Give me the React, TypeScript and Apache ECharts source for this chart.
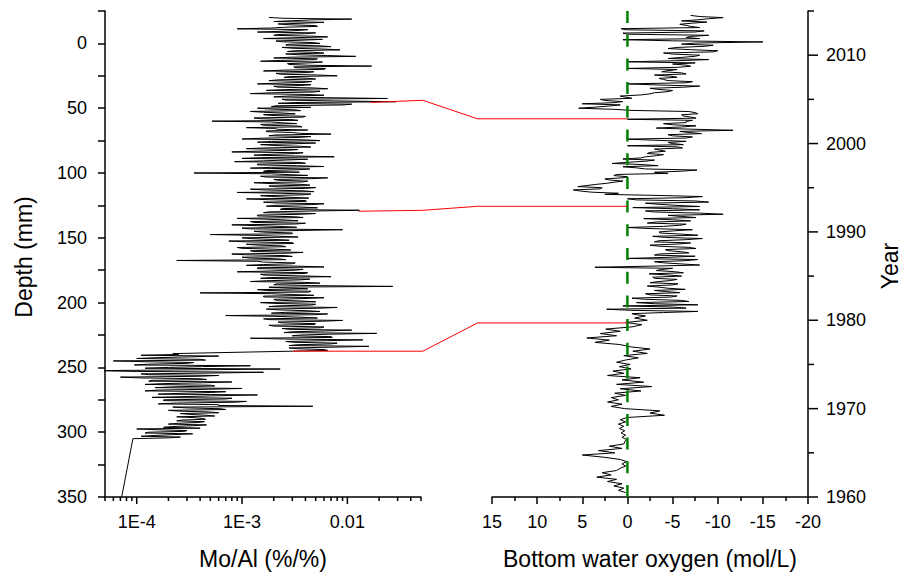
import React, { useEffect, useRef } from 'react';
import * as echarts from 'echarts';

// ---------- Data ----------
// Mo/Al profile (%/%), series A sampled every 1.25 mm starting at -20 mm depth
const moAlDepthStartA = -20;
const moAlDepthStep = 1.25;
const moAlValuesA = [
  0.0018, 0.011, 0.003, 0.006, 0.0022, 0.005, 0.0026, 0.0009,
  0.0035, 0.0014, 0.004, 0.002, 0.0065, 0.0016, 0.0038, 0.0024,
  0.0055, 0.0026, 0.007, 0.003, 0.0085, 0.0027, 0.006, 0.0034,
  0.012, 0.002, 0.005, 0.0015, 0.0045, 0.0028, 0.017, 0.0032,
  0.006, 0.0016, 0.0042, 0.0023, 0.008, 0.0025, 0.005, 0.0018,
  0.004, 0.0014, 0.0036, 0.0022, 0.0065, 0.0017, 0.0048, 0.0012,
  0.006, 0.002, 0.024, 0.0026, 0.029, 0.0022, 0.009, 0.0019,
  0.0014, 0.0032, 0.0012, 0.0025, 0.0016, 0.004, 0.0013, 0.0029,
  0.00052, 0.0024, 0.0015, 0.0034, 0.0011, 0.0022, 0.0017, 0.003,
  0.007, 0.0018, 0.0036, 0.001, 0.0055, 0.0014, 0.003, 0.002,
  0.0045, 0.0011, 0.0027, 0.0008, 0.0032, 0.0013, 0.0075, 0.001,
  0.0026, 0.00085, 0.004, 0.0014, 0.006, 0.0012, 0.0034, 0.0016,
  0.00035, 0.0028, 0.0015, 0.0065, 0.002, 0.0042, 0.0013, 0.0036,
  0.0018, 0.005, 0.0012, 0.0038, 0.0009, 0.0045, 0.0015, 0.0029,
  0.0011, 0.004, 0.0016, 0.006, 0.002, 0.0036, 0.0024, 0.013,
  0.0018, 0.005, 0.0014, 0.0032, 0.0009, 0.0026, 0.0012, 0.004,
  0.0008, 0.0024, 0.001, 0.009, 0.0013, 0.003, 0.0005, 0.0022,
  0.001, 0.002, 0.00075, 0.003, 0.0011, 0.0024, 0.0009, 0.002,
  0.0012, 0.0038, 0.0008, 0.0026, 0.001, 0.0022, 0.00024, 0.0016,
  0.003, 0.0011, 0.006, 0.0014, 0.0032, 0.0009, 0.004, 0.0016,
  0.007, 0.0015, 0.0035, 0.0012, 0.0055, 0.002, 0.027, 0.0028,
  0.0014, 0.0045, 0.0004, 0.003, 0.0016, 0.006, 0.002, 0.0036,
  0.0015, 0.005, 0.0022, 0.008, 0.0017, 0.0042, 0.0026, 0.0065,
  0.0007, 0.0036, 0.0016, 0.009, 0.0022, 0.005, 0.0018, 0.006,
  0.0024, 0.011, 0.003, 0.019, 0.0036, 0.007, 0.0012, 0.014,
  0.0026, 0.008, 0.0034, 0.016, 0.0028, 0.006, 0.003, 0.0005,
  0.00025, 0.0006, 0.00015, 0.0004, 0.00006, 0.00035, 0.00013, 0.0012,
  0.0002, 0.0023, 0.00004, 0.0016, 0.00011, 0.0006, 0.00007, 0.0004,
  0.00014, 0.0008, 0.00018, 0.0005, 0.00022, 0.001, 0.00016, 0.0007,
  0.00026, 0.0014, 0.0003, 0.0008, 0.00018, 0.0011, 0.00024, 0.0006,
  0.0047, 0.0003, 0.0007, 0.00025, 0.0006, 0.00032, 0.00055, 0.00035,
  0.00045, 0.00024, 0.00038, 0.0002, 0.00034, 0.00018, 0.0001, 0.0003,
  0.00013, 0.00034, 0.00015, 0.00026, 0.000092,
];
// Mo/Al series B: intermediate samples, every 1.25 mm starting at -19.375 mm
const moAlDepthStartB = -19.375;
const moAlValuesB = [
  0.0025, 0.0045, 0.002, 0.004, 0.0028, 0.0052, 0.0019, 0.0042,
  0.0024, 0.005, 0.0022, 0.0045, 0.003, 0.0058, 0.0021, 0.0047,
  0.0028, 0.0055, 0.0024, 0.006, 0.0032, 0.0048, 0.0026, 0.0065,
  0.003, 0.0052, 0.0023, 0.0058, 0.0027, 0.0044, 0.0031, 0.0062,
  0.0025, 0.0048, 0.0021, 0.0052, 0.0028, 0.0042, 0.0022, 0.0046,
  0.0023, 0.0045, 0.002, 0.0048, 0.0026, 0.0055, 0.0019, 0.004,
  0.0027, 0.0062, 0.0024, 0.0075, 0.0032, 0.011, 0.0021, 0.0045,
  0.0018, 0.0036, 0.0016, 0.0032, 0.0019, 0.0038, 0.0015, 0.0034,
  0.0019, 0.0033, 0.0016, 0.0037, 0.002, 0.0042, 0.0017, 0.0035,
  0.0021, 0.0045, 0.0016, 0.0038, 0.0019, 0.005, 0.0015, 0.0036,
  0.0017, 0.0034, 0.0014, 0.0038, 0.0018, 0.0032, 0.0015, 0.0042,
  0.0016, 0.0036, 0.0014, 0.0033, 0.0019, 0.0044, 0.0017, 0.0035,
  0.0019, 0.0042, 0.0017, 0.0046, 0.0022, 0.0038, 0.0018, 0.0044,
  0.0021, 0.004, 0.0017, 0.0048, 0.0023, 0.0037, 0.0019, 0.0043,
  0.0018, 0.0041, 0.0021, 0.0046, 0.0017, 0.0052, 0.0023, 0.0044,
  0.0016, 0.0036, 0.0014, 0.0038, 0.0017, 0.0034, 0.0013, 0.0032,
  0.0014, 0.0033, 0.0012, 0.0035, 0.0016, 0.003, 0.0013, 0.0034,
  0.0012, 0.0028, 0.0011, 0.0031, 0.0014, 0.0026, 0.001, 0.0029,
  0.0013, 0.0027, 0.0011, 0.003, 0.0012, 0.0026, 0.0014, 0.0032,
  0.0016, 0.0034, 0.0014, 0.0038, 0.0018, 0.0042, 0.0015, 0.0036,
  0.0019, 0.0044, 0.0017, 0.0039, 0.0021, 0.0046, 0.0018, 0.0042,
  0.0017, 0.0043, 0.0019, 0.0048, 0.0016, 0.0038, 0.0021, 0.005,
  0.002, 0.0046, 0.0018, 0.0052, 0.0022, 0.0055, 0.0019, 0.0048,
  0.0021, 0.0052, 0.0018, 0.0058, 0.0024, 0.0049, 0.002, 0.0056,
  0.0028, 0.0062, 0.0025, 0.0068, 0.003, 0.0072, 0.0026, 0.0065,
  0.0031, 0.007, 0.0028, 0.0075, 0.0034, 0.0065, 0.0012, 0.00022,
  0.00011, 0.00032, 0.0001, 0.00045, 0.00012, 0.0003, 0.000095, 0.00042,
  0.00012, 0.00035, 0.0001, 0.0005, 0.00013, 0.00038, 0.00011, 0.00046,
  0.00013, 0.00042, 0.00012, 0.00055, 0.00015, 0.00048, 0.00012, 0.0005,
  0.00016, 0.00058, 0.00014, 0.0007, 0.00018, 0.00085, 0.00016, 0.0006,
  0.00022, 0.00062, 0.0002, 0.00048, 0.00026, 0.00045, 0.00024, 0.00042,
  0.00027, 0.00044, 0.00025, 0.00046, 0.00022, 0.0004, 0.00016, 0.00028,
  0.00012, 0.00022, 0.00011, 0.0002,
];
// last sample at the bottom of the core: [Mo/Al, depth]
const moAlTail = [[0.000072, 350]];

// Bottom water oxygen, series A every 0.25 yr starting in 1960.5
const oxygenYearStartA = 1960.5;
const oxygenYearStep = 0.25;
const oxygenValuesA = [
  0.2, 1.0, 0.4, 1.5, 0.6, 2.2, 1.2, 3.4,
  1.8, 2.8, 1.2, 0.8, 0.2, 0.6, 0.1, 0.8,
  2.6, 5.0, 1.4, 3.2, 0.6, 2.0, 0.4, 0.3,
  0.1, 0.6, 0.2, 0.7, 0.3, 0.9, 0.4, 1.0,
  0.2, 0.8, 0.0, -4.1, -2.5, -3.6, 0.3, 1.8,
  0.6, 2.2, 1.0, 1.8, 0.2, 1.4, -1.5, 0.8,
  -2.7, 1.2, -1.8, 0.6, -1.4, 2.2, 0.4, 1.6,
  -0.4, 0.9, -0.3, 1.2, 0.2, -1.2, 0.4, -2.2,
  -0.6, -2.5, -0.3, 0.8, 3.6, 2.0, 4.5, 1.2,
  3.0, 0.8, 2.4, -0.5, -1.6, 0.2, -2.2, -0.8,
  -2.0, -0.5, -7.8, 2.3, -5.0, -7.8, -1.0, -6.0,
  -0.5, -5.5, -2.0, -4.2, -6.4, -3.5, -5.0, -2.5,
  -4.8, -3.0, -6.0, -2.4, -5.2, -3.8, 3.6, -8.0,
  -4.0, -6.5, 0.0, -7.5, -3.5, -6.0, -4.2, -6.8,
  -2.5, -7.0, -3.5, -8.3, -2.8, -6.0, -3.5, -7.2,
  0.0, -5.8, -2.2, -7.0, -1.8, -6.0, -10.6, -3.0,
  -8.0, -0.6, -5.5, -2.0, -7.5, 0.0, -8.3, 2.5,
  4.0, 6.0, 2.8, 4.5, 2.3, 0.5, 2.5, 0.0,
  1.2, -3.0, -7.7, -1.0, -3.4, 1.7, -2.0, 0.5,
  -2.0, -4.0, -2.5, -3.6, -6.1, 0.0, -5.0, -6.5,
  0.0, -7.2, -4.5, -6.8, -11.7, -3.2, -7.6, -4.0,
  -6.5, 0.0, -7.0, -6.0, -7.5, -0.5, 5.4, 2.0,
  5.0, 0.5, 3.0, 0.2, -1.5, -3.0, -5.0, -2.5,
  -8.0, 0.0, -7.2, -4.0, -5.5, -3.0, -6.0, -4.5,
  0.0, -7.0, -5.0, 0.0, -9.0, -6.0, -8.0, -4.0,
  -10.0, -4.5, -8.5, -6.0, -15.0, 0.5, -6.5, -9.0,
  0.5, -8.5, 0.7, -7.0, -5.8, -8.8, -7.8, -10.6,
  -7.0,
];
// Oxygen series B: intermediate samples (1980.625 onward, every 0.25 yr)
const oxygenYearStartB = 1980.625;
const oxygenValuesB = [
  -1.0, -4.0, -0.5, -6.5, 0.5, -3.0, -6.8, -2.0,
  -4.8, -2.5, -5.8, -3.0, -4.5, -2.2, -5.6, -3.4,
  -5.5, -2.8, -4.6, -6.2, -3.2, -5.0, -2.6, -6.0,
  -3.0, -7.8, -4.5, -3.0, -6.8, -4.5, -7.6, -3.6,
  -5.5, -3.0, -6.5, -4.2, -7.8, -3.6, -5.2, -2.6,
  -4.0, -6.5, -3.2, -5.0, -7.6, -4.5, -8.0, -2.0,
  -5.0, -8.0, -3.5, -9.0, -1.0, -6.5, -3.5, 1.0,
  5.2, 3.0, 5.5, 3.5, 1.5, 2.0, 0.5, 1.5,
  -4.5, -6.0, -2.0, 0.5, -1.5, 0.0, -3.0, -1.5,
  -3.2, -2.2, -4.2, -3.0, -5.5, -6.2, -4.5, -3.0,
  -6.5, -5.0, -8.2, -5.8, -7.0, -6.0, -5.0, -6.5,
  -7.2, -7.6, -6.2, -7.8, -6.8, 1.5, 3.5, 0.8,
  1.5, 2.5, -0.5, 0.8, -2.5, -4.5, -3.5, -6.2,
  -3.5, -6.5, -4.5, -3.5, -4.8, -6.5, -3.8, -5.5,
  -5.5, -6.5, -7.5, -5.5, -4.5, -7.5, -5.0, -9.5,
  -7.0, -5.5, -9.5, -7.5, -5.0, -8.0, -7.0, 0.0,
  -7.5, 0.2, -8.0, -6.5, -7.2, -6.0, -9.0, -8.0,
];

// Zero-oxygen reference line (year span)
const zeroLineYears = [2015, 1960];

// Correlation tie lines: Mo/Al peak (depth) -> corner -> oxygen year
const tieMoAl = [0.0167, 0.0128, 0.00304];
const tieDepth = [45.5, 129.5, 237.5];
const tieCornerMoAl = [0.052, 0.052, 0.052];
const tieCornerDepth = [43.9, 128.8, 237.5];
const tieCornerOxygen = [16.6, 16.6, 16.6];
const tieYear = [2002.8, 1992.9, 1979.7];

// Axis ticks
const logMajorTicks = [1e-4, 1e-3, 1e-2];
const logMinorTicks = [
  5e-5, 6e-5, 7e-5, 8e-5, 9e-5,
  2e-4, 3e-4, 4e-4, 5e-4, 6e-4, 7e-4, 8e-4, 9e-4,
  2e-3, 3e-3, 4e-3, 5e-3, 6e-3, 7e-3, 8e-3, 9e-3,
  2e-2, 3e-2, 4e-2, 5e-2,
];
const logTickLabels = ['1E-4', '1E-3', '0.01'];
const yearMajorTicks = [1960, 1970, 1980, 1990, 2000, 2010];
const yearMinorTicks = [1965, 1975, 1985, 1995, 2005, 2015];

const FONT = '"Liberation Sans", Arial, Helvetica, sans-serif';

function tickSeries(xAxisIndex: number, yAxisIndex: number, pts: number[][], dx: number, dy: number) {
  return {
    type: 'custom',
    xAxisIndex,
    yAxisIndex,
    silent: true,
    clip: false,
    z: 6,
    data: pts,
    renderItem: (_params: any, api: any) => {
      const p = api.coord([api.value(0), api.value(1)]);
      return {
        type: 'line',
        shape: { x1: p[0], y1: p[1], x2: p[0] + dx, y2: p[1] + dy },
        style: { stroke: '#000', lineWidth: 1.5 },
      };
    },
  };
}

export default function App() {
  const ref = useRef<HTMLDivElement>(null);

  useEffect(() => {
    if (!ref.current) return;
    const chart = echarts.init(ref.current, undefined, { renderer: 'svg' });

    const moAlData = moAlValuesA
      .map((v, i) => [v, moAlDepthStartA + i * moAlDepthStep])
      .concat(moAlValuesB.map((v, i) => [v, moAlDepthStartB + i * moAlDepthStep]))
      .sort((a, b) => a[1] - b[1])
      .concat(moAlTail);
    const oxygenData = oxygenValuesA
      .map((v, i) => [v, oxygenYearStartA + i * oxygenYearStep])
      .concat(oxygenValuesB.map((v, i) => [v, oxygenYearStartB + i * oxygenYearStep]))
      .sort((a, b) => a[1] - b[1]);

    const axisLine = { show: true, onZero: false, lineStyle: { color: '#000', width: 1.5 } };
    const labelStyle = { color: '#000', fontSize: 18, fontFamily: FONT };
    const nameStyle = { color: '#000', fontSize: 23, fontFamily: FONT };

    chart.setOption({
      animation: false,
      backgroundColor: '#fff',
      grid: [
        { left: 105, top: 11, width: 316, height: 486, outerBoundsMode: 'none' },
        { left: 492, top: 11, width: 316, height: 486, outerBoundsMode: 'none' },
      ],
      xAxis: [
        {
          type: 'log',
          gridIndex: 0,
          logBase: 10,
          min: 5e-5,
          max: 0.05,
          position: 'bottom',
          axisLine,
          axisTick: { show: false },
          splitLine: { show: false },
          axisLabel: {
            ...labelStyle,
            margin: 16,
            formatter: (v: number) => {
              const lg = Math.log10(v);
              for (let k = 0; k < logMajorTicks.length; k++) {
                if (Math.abs(lg - Math.log10(logMajorTicks[k])) < 1e-6) return logTickLabels[k];
              }
              return '';
            },
          },
          name: 'Mo/Al (%/%)',
          nameLocation: 'middle',
          nameGap: 50,
          nameTextStyle: nameStyle,
        },
        {
          type: 'value',
          gridIndex: 1,
          min: -20,
          max: 15,
          interval: 5,
          inverse: true,
          position: 'bottom',
          axisLine,
          axisTick: { show: true, length: 7, lineStyle: { color: '#000', width: 1.5 } },
          minorTick: { show: true, splitNumber: 2, length: 4, lineStyle: { color: '#000', width: 1.5 } },
          splitLine: { show: false },
          minorSplitLine: { show: false },
          axisLabel: { ...labelStyle, margin: 16 },
          name: 'Bottom water oxygen (mol/L)',
          nameLocation: 'middle',
          nameGap: 50,
          nameTextStyle: nameStyle,
        },
      ],
      yAxis: [
        {
          type: 'value',
          gridIndex: 0,
          min: -25,
          max: 350,
          interval: 25,
          inverse: true,
          position: 'left',
          axisLine,
          axisTick: { show: true, length: 7, lineStyle: { color: '#000', width: 1.5 } },
          splitLine: { show: false },
          axisLabel: {
            ...labelStyle,
            margin: 18,
            formatter: (v: number) => (v % 50 === 0 ? String(v) : ''),
          },
          name: 'Depth (mm)',
          nameLocation: 'middle',
          nameGap: 70,
          nameTextStyle: { ...nameStyle, padding: [0, 6, 0, 0] },
        },
        {
          type: 'value',
          gridIndex: 1,
          min: 1960,
          max: 2015,
          interval: 10,
          position: 'right',
          axisLine,
          axisTick: { show: false },
          splitLine: { show: false },
          axisLabel: {
            ...labelStyle,
            margin: 18,
            formatter: (v: number) => (v % 10 === 0 ? String(v) : ''),
          },
          name: 'Year',
          nameLocation: 'middle',
          nameGap: 70,
          nameTextStyle: { ...nameStyle, padding: [0, 24, 0, 0] },
        },
      ],
      series: [
        {
          name: 'Mo/Al',
          type: 'line',
          xAxisIndex: 0,
          yAxisIndex: 0,
          data: moAlData,
          showSymbol: false,
          symbol: 'none',
          lineStyle: { color: '#000', width: 1 },
          z: 3,
        },
        {
          name: 'Oxygen',
          type: 'line',
          xAxisIndex: 1,
          yAxisIndex: 1,
          data: oxygenData,
          showSymbol: false,
          symbol: 'none',
          lineStyle: { color: '#000', width: 1 },
          z: 3,
        },
        {
          name: 'Zero',
          type: 'line',
          xAxisIndex: 1,
          yAxisIndex: 1,
          data: zeroLineYears.map((y) => [0, y]),
          showSymbol: false,
          symbol: 'none',
          lineStyle: { color: '#008000', width: 2.5, type: [12, 11.7] },
          z: 4,
        },
        tickSeries(0, 0, logMajorTicks.map((v) => [v, 350]), 0, 7),
        tickSeries(0, 0, logMinorTicks.map((v) => [v, 350]), 0, 4),
        tickSeries(1, 1, yearMajorTicks.map((y) => [-20, y]), 10, 0),
        tickSeries(1, 1, yearMinorTicks.map((y) => [-20, y]), 6, 0),
      ],
    });

    const graphics = tieMoAl.map((m, i) => {
      const p0 = chart.convertToPixel({ gridIndex: 0 }, [m, tieDepth[i]]) as number[];
      const p1 = chart.convertToPixel({ gridIndex: 0 }, [tieCornerMoAl[i], tieCornerDepth[i]]) as number[];
      const p2 = chart.convertToPixel({ gridIndex: 1 }, [tieCornerOxygen[i], tieYear[i]]) as number[];
      const p3 = chart.convertToPixel({ gridIndex: 1 }, [0, tieYear[i]]) as number[];
      return {
        type: 'polyline',
        z: 10,
        silent: true,
        shape: { points: [p0, p1, p2, p3] },
        style: { stroke: '#ff0000', lineWidth: 1, fill: 'none' },
      };
    });
    chart.setOption({ graphic: graphics });

    return () => chart.dispose();
  }, []);

  return (
    <div
      ref={ref}
      style={{ position: 'absolute', left: 0, top: 0, width: 901, height: 576, background: '#fff' }}
    />
  );
}
